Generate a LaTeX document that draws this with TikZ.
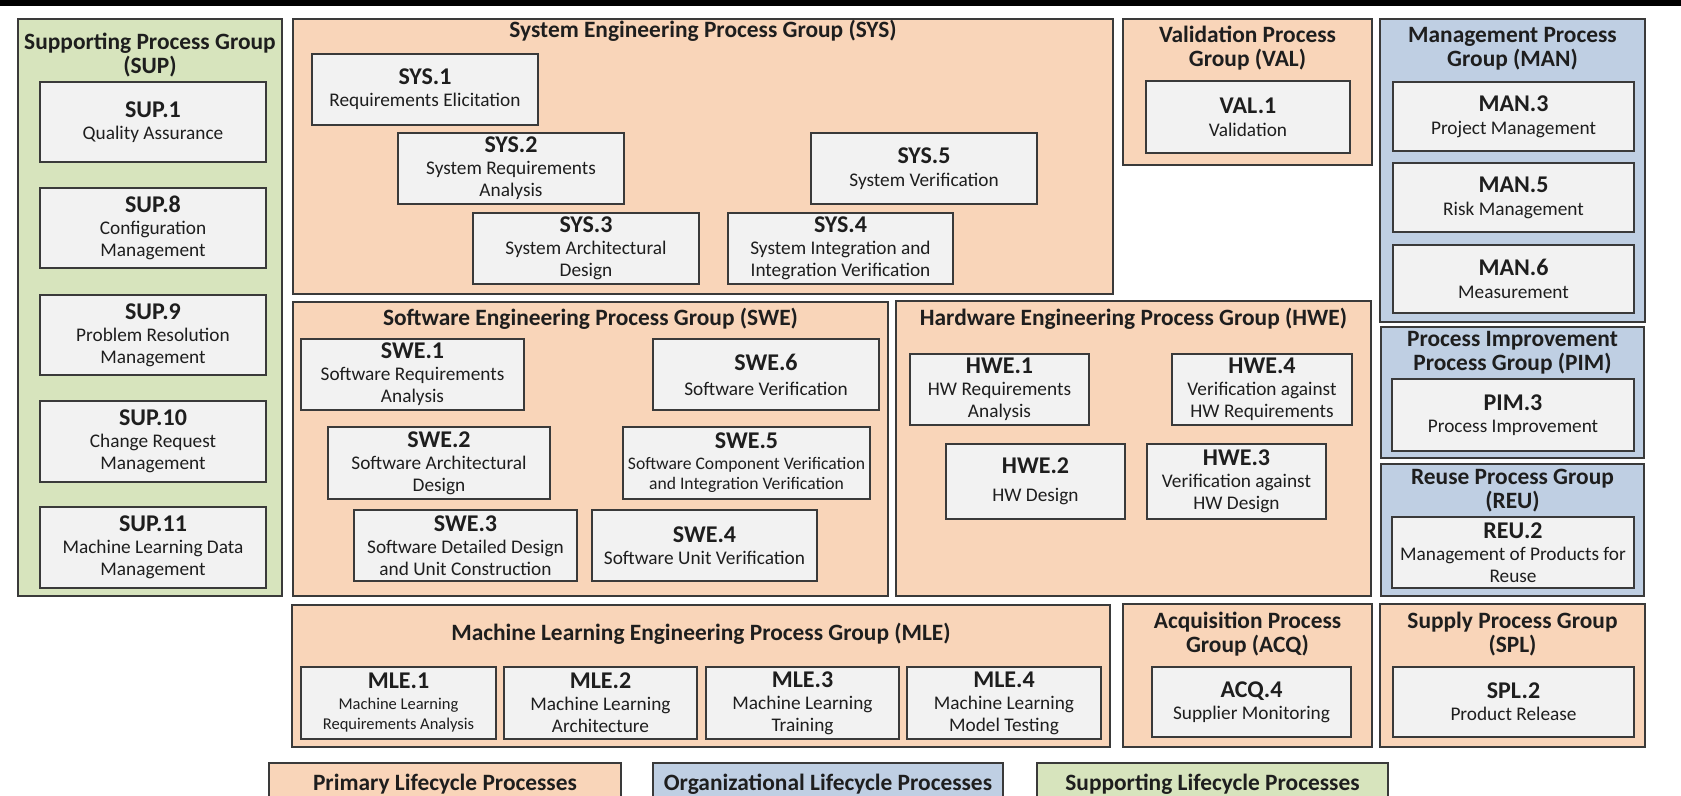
\documentclass[tikz,border=0pt]{standalone}
\usepackage{fontspec}
\setmainfont{Carlito}

\definecolor{primfill}{HTML}{F9D5B9}
\definecolor{orgfill}{HTML}{BFCFE3}
\definecolor{supfill}{HTML}{D7E4BD}
\definecolor{boxfill}{HTML}{F2F2F2}
\definecolor{edge}{HTML}{3A3A3A}
\definecolor{ink}{HTML}{1E1E1E}

\newcommand\ttlfont{\fontsize{23.4}{24}\selectfont\bfseries}
\newcommand\descfont{\fontsize{19.3}{22}\selectfont}
\newcommand\widefont{\fontsize{17.6}{20}\selectfont}
\newcommand\narrowfont{\fontsize{16.5}{20}\selectfont}
\newcommand\pid[1]{{\fontsize{24}{24}\selectfont\bfseries #1}}

\tikzset{
  group/.style={draw=edge, line width=1.5pt, inner sep=0pt, outer sep=0pt},
  proc/.style={draw=edge, fill=boxfill, line width=1.5pt, inner sep=0pt,
               outer sep=0pt, align=center, font=\descfont, text=ink},
  gtitle/.style={font=\ttlfont, align=center, inner sep=0pt, text=ink},
}

% \area{fill style}{name}{x1}{y1}{x2}{y2}
\newcommand\area[6]{\node[group, #1, minimum width={#5-#3},
  minimum height={#6-#4}] (#2) at ({(#3+#5)/2},{(#4+#6)/2}) {};}
% \proc[options]{name}{x1}{y1}{x2}{y2}{text}
\newcommand\proc[7][]{\node[proc, #1, minimum width={#5-#3},
  minimum height={#6-#4}] (#2) at ({(#3+#5)/2},{(#4+#6)/2}) {#7};}

\begin{document}
\begin{tikzpicture}[x=1pt, y=-1pt]
\useasboundingbox (0,0) rectangle (1681,795);
\clip (0,0) rectangle (1681,795);
\fill[black] (0,0) rectangle (1681,6);

% ---- Supporting process group
\area{fill=supfill}{sup}{18}{19}{282}{596}
\node[gtitle] (sup-t) at (150,55) {Supporting Process Group\\(SUP)};
\proc{sup1}{40}{82}{266}{162}{\pid{SUP.1}\\Quality Assurance}
\proc{sup8}{40}{188}{266}{268}{\pid{SUP.8}\\Configuration\\Management}
\proc{sup9}{40}{295}{266}{375}{\pid{SUP.9}\\Problem Resolution\\Management}
\proc{sup10}{40}{401}{266}{482}{\pid{SUP.10}\\Change Request\\Management}
\proc{sup11}{40}{507}{266}{588}{\pid{SUP.11}\\Machine Learning Data\\Management}

% ---- System engineering
\area{fill=primfill}{sys}{293}{19}{1113}{294}
\node[gtitle] (sys-t) at (703,31) {System Engineering Process Group (SYS)};
\proc{sys1}{312}{54}{538}{125}{\pid{SYS.1}\\Requirements Elicitation}
\proc{sys2}{398}{133}{624}{204}{\pid{SYS.2}\\System Requirements\\Analysis}
\proc{sys3}{473}{213}{699}{284}{\pid{SYS.3}\\System Architectural\\Design}
\proc{sys4}{728}{213}{953}{284}{\pid{SYS.4}\\System Integration and\\Integration Verification}
\proc{sys5}{811}{133}{1037}{204}{\pid{SYS.5}\\[1pt]System Verification}

% ---- Validation
\area{fill=primfill}{val}{1123}{19}{1372}{165}
\node[gtitle] (val-t) at (1247.5,48.5) {Validation Process\\Group (VAL)};
\proc{val1}{1146}{81}{1350}{153}{\pid{VAL.1}\\[1pt]Validation}

% ---- Management
\area{fill=orgfill}{man}{1380}{19}{1645}{322}
\node[gtitle] (man-t) at (1512.5,48.5) {Management Process\\Group (MAN)};
\proc{man3}{1393}{82}{1634}{151}{\pid{MAN.3}\\[1pt]Project Management}
\proc{man5}{1393}{163}{1634}{232}{\pid{MAN.5}\\[1pt]Risk Management}
\proc{man6}{1393}{245}{1634}{313}{\pid{MAN.6}\\[1pt]Measurement}

% ---- Software engineering
\area{fill=primfill}{swe}{293}{302}{888}{596}
\node[gtitle] (swe-t) at (590.5,319) {Software Engineering Process Group (SWE)};
\proc{swe1}{301}{339}{524}{410}{\pid{SWE.1}\\Software Requirements\\Analysis}
\proc{swe6}{653}{339}{879}{410}{\pid{SWE.6}\\[3pt]Software Verification}
\proc{swe2}{328}{427}{550}{499}{\pid{SWE.2}\\Software Architectural\\Design}
\proc[font=\widefont]{swe5}{623}{427}{870}{499}{\pid{SWE.5}\\[1pt]Software Component Verification\\and Integration Verification}
\proc{swe3}{354}{510}{577}{581}{\pid{SWE.3}\\Software Detailed Design\\and Unit Construction}
\proc{swe4}{592}{510}{817}{581}{\pid{SWE.4}\\Software Unit Verification}

% ---- Hardware engineering
\area{fill=primfill}{hwe}{896}{301}{1371}{596}
\node[gtitle] (hwe-t) at (1133.5,319) {Hardware Engineering Process Group (HWE)};
\proc{hwe1}{910}{354}{1089}{425}{\pid{HWE.1}\\HW Requirements\\Analysis}
\proc{hwe4}{1172}{354}{1352}{425}{\pid{HWE.4}\\Verification against\\HW Requirements}
\proc{hwe2}{946}{444}{1125}{519}{\pid{HWE.2}\\[6pt]HW Design}
\proc{hwe3}{1147}{444}{1326}{519}{\pid{HWE.3}\\Verification against\\HW Design}

% ---- Process improvement and reuse
\area{fill=orgfill}{pim}{1381}{327}{1644}{458}
\node[gtitle] (pim-t) at (1512.5,352.5) {Process Improvement\\Process Group (PIM)};
\proc{pim3}{1392}{379}{1634}{451}{\pid{PIM.3}\\Process Improvement}
\area{fill=orgfill}{reu}{1381}{464}{1644}{596}
\node[gtitle] (reu-t) at (1512.5,490.5) {Reuse Process Group\\(REU)};
\proc{reu2}{1392}{517}{1634}{588}{\pid{REU.2}\\Management of Products for\\Reuse}

% ---- Machine learning engineering
\area{fill=primfill}{mle}{292}{605}{1110}{747}
\node[gtitle] (mle-t) at (701,634) {Machine Learning Engineering Process Group (MLE)};
\proc[font=\narrowfont]{mle1}{301}{667}{496}{739}{\pid{MLE.1}\\[1pt]Machine Learning\\Requirements Analysis}
\proc{mle2}{504}{667}{697}{739}{\pid{MLE.2}\\Machine Learning\\Architecture}
\proc{mle3}{706}{667}{899}{739}{\pid{MLE.3}\\Machine Learning\\Training}
\proc{mle4}{907}{667}{1101}{739}{\pid{MLE.4}\\Machine Learning\\Model Testing}

% ---- Acquisition and supply
\area{fill=primfill}{acq}{1123}{604}{1372}{747}
\node[gtitle] (acq-t) at (1247.5,634.5) {Acquisition Process\\Group (ACQ)};
\proc{acq4}{1152}{667}{1351}{737}{\pid{ACQ.4}\\Supplier Monitoring}
\area{fill=primfill}{spl}{1380}{604}{1645}{747}
\node[gtitle] (spl-t) at (1512.5,634.5) {Supply Process Group\\(SPL)};
\proc{spl2}{1393}{667}{1634}{737}{\pid{SPL.2}\\Product Release}

% ---- Legend
\area{fill=primfill}{leg-prim}{269}{763}{621}{812}
\node[gtitle] (leg-prim-t) at (445,784) {Primary Lifecycle Processes};
\area{fill=orgfill}{leg-org}{653}{763}{1003}{812}
\node[gtitle] (leg-org-t) at (828,784) {Organizational Lifecycle Processes};
\area{fill=supfill}{leg-sup}{1037}{763}{1388}{812}
\node[gtitle] (leg-sup-t) at (1212.5,784) {Supporting Lifecycle Processes};
\end{tikzpicture}
\end{document}
